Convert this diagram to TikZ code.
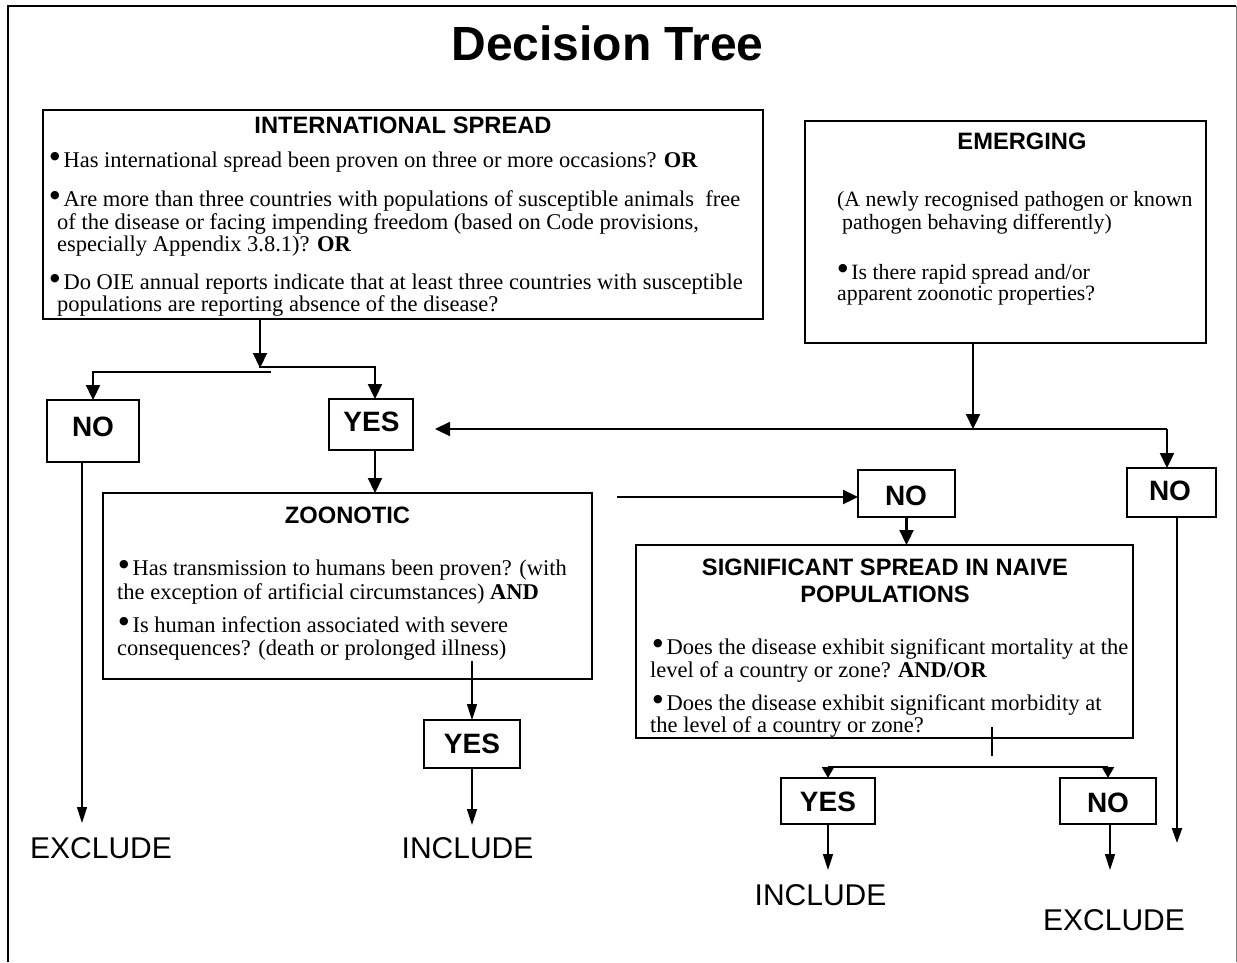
\documentclass[tikz,border=0pt]{standalone}
\usepackage{fontspec}
\setmainfont{Liberation Serif}
\newfontfamily\sansfnt{Liberation Sans}
\newfontfamily\dejavufnt{DejaVu Sans}
\usetikzlibrary{arrows.meta,calc}
\newcommand\bul{\raisebox{8pt}{\dejavufnt\fontsize{11}{11}\selectfont ●}\,}
\tikzset{
  frame/.style={line width=2pt},
  bigbox/.style={draw, line width=2pt, rectangle, inner sep=0pt, outer sep=0pt, anchor=north west},
  smallbox/.style={draw, line width=2pt, rectangle, inner sep=0pt, outer sep=0pt, anchor=north west},
  head/.style={font=\sansfnt\bfseries\fontsize{23.7}{26}\selectfont, inner sep=0pt, anchor=base},
  body/.style={font=\fontsize{22.5}{23}\selectfont, inner sep=0pt, anchor=base west},
  embody/.style={font=\fontsize{21.8}{23}\selectfont, inner sep=0pt, anchor=base west},
  yn/.style={font=\sansfnt\bfseries\fontsize{28}{30}\selectfont, inner sep=0pt, anchor=base},
  res/.style={font=\sansfnt\fontsize{30}{32}\selectfont, inner sep=0pt, anchor=base},
  conn/.style={line width=2.2pt, -{Triangle[length=15pt,width=14pt]}},
  thinconn/.style={line width=1.5pt, -{Triangle[length=16pt,width=10pt]}},
}
\begin{document}
\begin{tikzpicture}[x=1pt,y=-1pt]
\useasboundingbox (0,0) rectangle (1237,962);
% outer frame
\draw[frame] (8,962) -- (8,6) -- (1236,6);
\draw[gray, line width=1pt] (1236,6) -- (1236,962);

% title
\node[font=\sansfnt\bfseries\fontsize{48}{52}\selectfont, inner sep=0pt, anchor=base] (title) at (607.5,60) {Decision Tree};

% INTERNATIONAL SPREAD box
\node[bigbox, minimum width=720pt, minimum height=209pt] (isbox) at (43,110) {};
\node[head] (ish) at (403,133.5) {INTERNATIONAL SPREAD};
\node[body] (is1) at (50,167.5) {\bul Has international spread been proven on three or more occasions? \textbf{OR}};
\node[body] (is2) at (50,206.5) {\bul Are more than three countries with populations of susceptible animals\ \ free};
\node[body] (is3) at (57,229) {of the disease or facing impending freedom (based on Code provisions,};
\node[body] (is4) at (57,251.5) {especially Appendix 3.8.1)? \textbf{OR}};
\node[body] (is5) at (50,289.5) {\bul Do OIE annual reports indicate that at least three countries with susceptible};
\node[body] (is6) at (57,311) {populations are reporting absence of the disease?};

% EMERGING box
\node[bigbox, minimum width=401pt, minimum height=222pt] (embox) at (805,121) {};
\node[head] (emh) at (1022,149.5) {EMERGING};
\node[embody] (em1) at (837,206.5) {(A newly recognised pathogen or known};
\node[embody] (em2) at (842,229.5) {pathogen behaving differently)};
\node[embody] (em3) at (838,279.5) {\bul Is there rapid spread and/or};
\node[embody] (em4) at (837,300.5) {apparent zoonotic properties?};

% first level NO / YES
\node[smallbox, minimum width=92pt, minimum height=62pt] (nol) at (47,400) {};
\node[yn] (nolt) at (93,436) {NO};
\node[smallbox, minimum width=84pt, minimum height=51pt] (yest) at (329,399) {};
\node[yn] (yestt) at (371.5,431) {YES};
\coordinate (yestop) at ([xshift=4pt]yest.north);
\coordinate (yesbot) at ([xshift=4pt]yest.south);
\coordinate (nolbot) at ([xshift=-11pt]nol.south);

% ZOONOTIC box
\node[bigbox, minimum width=489pt, minimum height=186pt] (zbox) at (103,493) {};
\node[head] (zh) at (347.5,523) {ZOONOTIC};
\node[body] (z1) at (119,575.5) {\bul Has transmission to humans been proven? (with};
\node[body] (z2) at (117,599.5) {the exception of artificial circumstances) \textbf{AND}};
\node[body] (z3) at (119,632.5) {\bul Is human infection associated with severe};
\node[body] (z4) at (117,655.5) {consequences? (death or prolonged illness)};

% YES below zoonotic
\node[smallbox, minimum width=96pt, minimum height=48pt] (yesz) at (424,720) {};
\node[yn] (yeszt) at (472,753) {YES};

% middle NO and right NO
\node[smallbox, minimum width=97pt, minimum height=47pt] (nom) at (858,470) {};
\node[yn] (nomt) at (906,505) {NO};
\node[smallbox, minimum width=89pt, minimum height=49pt] (nor) at (1127,468) {};
\node[yn] (nort) at (1170,500) {NO};

% SSNP box
\node[bigbox, minimum width=497pt, minimum height=193pt] (sbox) at (636,545) {};
\node[head] (sh1) at (885,575.5) {SIGNIFICANT SPREAD IN NAIVE};
\node[head] (sh2) at (885,602) {POPULATIONS};
\node[body] (s1) at (653,654.5) {\bul Does the disease exhibit significant mortality at the};
\node[body] (s2) at (650,677.5) {level of a country or zone? \textbf{AND/OR}};
\node[body] (s3) at (653,710.5) {\bul Does the disease exhibit significant morbidity at};
\node[body] (s4) at (650,732.5) {the level of a country or zone?};

% bottom YES / NO
\node[smallbox, minimum width=94pt, minimum height=46pt] (yesr) at (781,778) {};
\node[yn] (yesrt) at (828,811) {YES};
\node[smallbox, minimum width=96pt, minimum height=46pt] (nob) at (1060,778) {};
\node[yn] (nobt) at (1108,812) {NO};
\coordinate (nobbot) at ([xshift=2pt]nob.south);

% results
\node[res] (ex1) at (101,858) {EXCLUDE};
\node[res] (in1) at (467.5,858) {INCLUDE};
\node[res] (in2) at (820.5,905) {INCLUDE};
\node[res] (ex2) at (1114,930) {EXCLUDE};

% coordinates
\coordinate (j1) at (260,368);
\coordinate (jl) at (271,372);
\coordinate (jr) at (259,367);
\coordinate (hl) at (1167,429);
\coordinate (hyes) at (435,429);
\coordinate (emtip) at (973,429);
\coordinate (arrstart) at (617,497);
\coordinate (ztop) at (472,661);
\coordinate (ex1tip) at (82,823);
\coordinate (in1tip) at (472,825);
\coordinate (in2tip) at (828,870);
\coordinate (ex2tip) at (1110,870);
\coordinate (nortip) at (1177,843);
\coordinate (tick1) at (992,727);
\coordinate (tick2) at (992,756);
\coordinate (bl) at (828,767);
\coordinate (br) at (1108,767);

% connectors
\draw[conn] (isbox.south -| j1) -- (j1);
\draw[conn] (jl) -- (jl -| nol.north) -- (nol.north);
\draw[conn] (jr) -- (jr -| yestop) -- (yestop);
\draw[conn] (yesbot) -- (yesbot |- zbox.north);
\draw[thinconn] (nolbot) -- (ex1tip);
\draw[thinconn] (ztop) -- (yesz.north);
\draw[thinconn] (yesz.south) -- (in1tip);
\draw[conn] (embox.south -| emtip) -- (emtip);
\draw[conn] (hl) -- (hyes);
\draw[conn] (hl) -- (hl |- nor.north);
\draw[conn] (arrstart) -- (arrstart -| nom.west);
\draw[conn] (nom.south) -- (nom.south |- sbox.north);
\draw[line width=2.2pt, -{Triangle[length=15pt,width=10pt]}] (nortip |- nor.south) -- (nortip);
\draw[line width=1.2pt] (tick1) -- (tick2);
\draw[line width=2.6pt] (bl) -- (br);
\draw[line width=2pt, -{Triangle[length=11pt,width=12pt]}] (bl) -- (yesr.north);
\draw[line width=2pt, -{Triangle[length=11pt,width=12pt]}] (br) -- (nob.north);
\draw[thinconn] (yesr.south) -- (in2tip);
\draw[thinconn] (nobbot) -- (ex2tip);
\end{tikzpicture}
\end{document}
